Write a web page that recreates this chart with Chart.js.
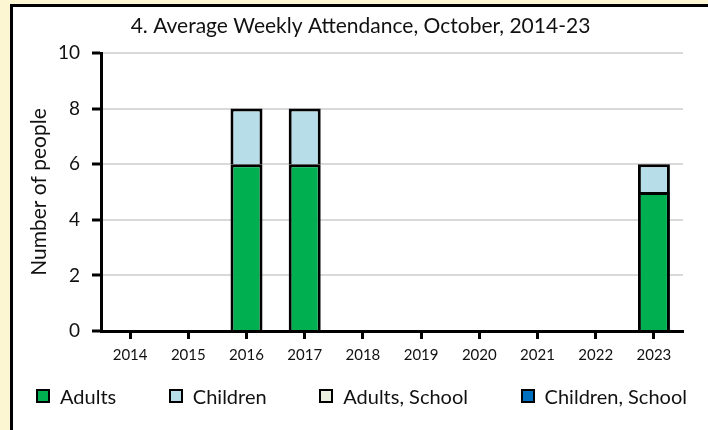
<!DOCTYPE html>
<html>
<head>
<meta charset="utf-8">
<title>Average Weekly Attendance</title>
<script src="https://cdn.jsdelivr.net/npm/chart.js@4.4.1/dist/chart.umd.min.js"></script>
<style>
  html, body { margin: 0; padding: 0; }
  body {
    width: 708px; height: 430px; overflow: hidden; position: relative;
    background: #fdf6d2; font-family: Lato, "Noto Sans", sans-serif;
  }
  #painel {
    position: absolute; left: 10px; top: 4px; width: 695px; height: 423px;
    background: #fff; border-left: 3px solid #000; border-top: 3px solid #000;
  }
  #grafico-caixa { position: absolute; left: 0; top: 0; width: 695px; height: 423px; }
  #legenda {
    position: absolute; left: 23px; right: 21px; top: 379px; height: 20px;
    display: flex; justify-content: space-between; align-items: center;
    margin: 0; padding: 0; list-style: none;
  }
  #legenda li { display: flex; align-items: center; font-size: 20px; color: #111; }
  #legenda .caixa {
    width: 10px; height: 10px; border: 2px solid #000; margin-right: 10px;
  }
</style>
</head>
<body>
<div id="painel">
  <div id="grafico-caixa"><canvas id="grafico"></canvas></div>
  <ul id="legenda"></ul>
</div>
<script>
// Dados
const anos = ["2014", "2015", "2016", "2017", "2018", "2019", "2020", "2021", "2022", "2023"];
const adultos = [0, 0, 6, 6, 0, 0, 0, 0, 0, 5];
const criancas = [0, 0, 2, 2, 0, 0, 0, 0, 0, 1];
const adultosEscola = [0, 0, 0, 0, 0, 0, 0, 0, 0, 0];
const criancasEscola = [0, 0, 0, 0, 0, 0, 0, 0, 0, 0];
const ticksY = [0, 2, 4, 6, 8, 10];

const fonte = "Lato, 'Noto Sans', sans-serif";

// cada segmento pula a borda da base: a de baixo fica sob o eixo
// e a linha entre segmentos não fica dobrada
function serie(label, data, cor) {
  return {
    label, data,
    backgroundColor: cor,
    borderColor: "#000",
    borderWidth: 3,
    borderSkipped: "start",
    barPercentage: 0.55,
    categoryPercentage: 1
  };
}

// legenda em HTML, montada a partir dos datasets
const legendaHtml = {
  id: "legendaHtml",
  afterUpdate(chart) {
    const lista = document.getElementById("legenda");
    lista.innerHTML = "";
    chart.data.datasets.forEach(ds => {
      const li = document.createElement("li");
      li.innerHTML = `<span class="caixa" style="background:${ds.backgroundColor}"></span>${ds.label}`;
      lista.appendChild(li);
    });
  }
};

new Chart(document.getElementById("grafico"), {
  type: "bar",
  data: {
    labels: anos,
    datasets: [
      serie("Adults", adultos, "#00b050"),
      serie("Children", criancas, "#b7dde8"),
      serie("Adults, School", adultosEscola, "#ebf1de"),
      serie("Children, School", criancasEscola, "#0070c0")
    ]
  },
  options: {
    responsive: true,
    maintainAspectRatio: false,
    animation: false,
    devicePixelRatio: 1,
    layout: { padding: { left: 0, right: 0, top: 0, bottom: 59 } },
    plugins: {
      legend: { display: false },
      tooltip: { enabled: false },
      title: {
        display: true,
        text: "4. Average Weekly Attendance, October, 2014-23",
        color: "#111",
        font: { family: fonte, size: 21, weight: "normal" },
        padding: { top: 6.5, bottom: 14.3 }
      }
    },
    scales: {
      x: {
        stacked: true,
        border: { color: "#000", width: 3 },
        grid: {
          offset: false, drawOnChartArea: false, drawTicks: true,
          tickLength: 8, tickColor: "#000", tickWidth: 3
        },
        ticks: {
          color: "#111", padding: 7, maxRotation: 0,
          font: { family: fonte, size: 15 }
        },
        afterFit(escala) { escala.height = 40; }
      },
      y: {
        stacked: true,
        min: 0, max: 10,
        afterBuildTicks(escala) { escala.ticks = ticksY.map(v => ({ value: v })); },
        border: { color: "#000", width: 3 },
        grid: { color: "#d9d9d9", lineWidth: 2, tickLength: 9, tickColor: "#000", tickWidth: 3 },
        ticks: {
          color: "#111", padding: 12,
          font: { family: fonte, size: 19 }
        },
        title: {
          display: true, text: "Number of people", color: "#111",
          font: { family: fonte, size: 21 },
          padding: { top: 14, bottom: 0 }
        },
        afterFit(escala) { escala.width = 88; }
      },
      // eixo vazio à direita só para reservar a margem (título fica centrado no painel)
      margemDireita: {
        axis: "y",
        position: "right",
        grid: { display: false },
        border: { display: false },
        ticks: { display: false },
        afterFit(escala) { escala.width = 25; }
      }
    }
  },
  plugins: [legendaHtml]
});
</script>
</body>
</html>
